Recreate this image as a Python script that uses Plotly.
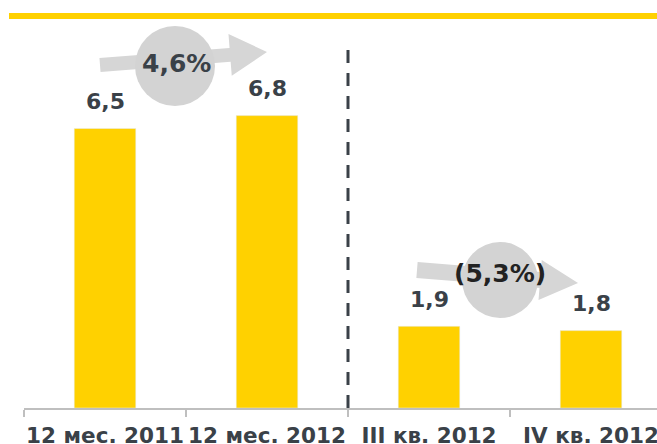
import math
import plotly.graph_objects as go

categories = ["12 мес. 2011", "12 мес. 2012", "III кв. 2012", "IV кв. 2012"]
values = [6.5, 6.8, 1.9, 1.8]
value_labels = ["6,5", "6,8", "1,9", "1,8"]
growth_labels = ["4,6%", "(5,3%)"]

W, H = 657, 444
BASE_PX = 408  # baseline in window pixels
ML, MR, MT = 24, 0, 0
MB = H - BASE_PX
CAT_W = 162.0
PPU = 43.0
plot_w = W - ML - MR
plot_h = H - MT - MB
x_range = [-0.5, -0.5 + plot_w / CAT_W]
y_range = [0, plot_h / PPU]


def px2x(px):
    return (px - ML) / CAT_W - 0.5


def px2y(py):
    return (BASE_PX - py) / PPU


def arrow_path(tail, tip, sw, hw, hl):
    dx, dy = tip[0] - tail[0], tip[1] - tail[1]
    L = math.hypot(dx, dy)
    ux, uy = dx / L, dy / L
    nx, ny = -uy, ux
    bx, by = tip[0] - ux * hl, tip[1] - uy * hl
    pts = [
        (tail[0] + nx * sw, tail[1] + ny * sw),
        (bx + nx * sw, by + ny * sw),
        (bx + nx * hw, by + ny * hw),
        tip,
        (bx - nx * hw, by - ny * hw),
        (bx - nx * sw, by - ny * sw),
        (tail[0] - nx * sw, tail[1] - ny * sw),
    ]
    return "M " + " L ".join(f"{px2x(p[0]):.4f},{px2y(p[1]):.4f}" for p in pts) + " Z"


GREY = "#D6D6D6"
DARK = "#3A4148"
YELLOW = "#FFD100"
FONT = "DejaVu Sans"

fig = go.Figure()
fig.add_trace(go.Bar(
    x=categories, y=values, marker_color=YELLOW, width=0.38,
    hoverinfo="skip",
))

shapes = []
# top yellow rule
shapes.append(dict(type="line", xref="paper", yref="paper",
                   x0=(9 - ML) / plot_w, x1=1.0,
                   y0=px2y(16) / y_range[1], y1=px2y(16) / y_range[1],
                   line=dict(color=YELLOW, width=6)))
# dashed separator
shapes.append(dict(type="line", xref="x", yref="y", x0=1.5, x1=1.5,
                   y0=0, y1=px2y(46),
                   line=dict(color=DARK, width=3, dash="13px,10px")))
# arrows + circles
shapes.append(dict(type="path", xref="x", yref="y",
                   path=arrow_path((100, 65), (267, 52), 7, 21, 37),
                   fillcolor=GREY, line=dict(width=0)))
shapes.append(dict(type="circle", xref="x", yref="y",
                   x0=px2x(175 - 40), x1=px2x(175 + 40),
                   y0=px2y(66 + 40), y1=px2y(66 - 40),
                   fillcolor="#D3D3D3", line=dict(width=0)))
shapes.append(dict(type="path", xref="x", yref="y",
                   path=arrow_path((417, 270), (578, 283), 8, 20, 38),
                   fillcolor=GREY, line=dict(width=0)))
shapes.append(dict(type="circle", xref="x", yref="y",
                   x0=px2x(500 - 38), x1=px2x(500 + 38),
                   y0=px2y(280 + 38), y1=px2y(280 - 38),
                   fillcolor="#D3D3D3", line=dict(width=0)))

annotations = []
for c, v, t in zip(categories, values, value_labels):
    annotations.append(dict(x=c, y=v, text=t, showarrow=False, yshift=27,
                            font=dict(family=FONT, size=22, color=DARK, weight="bold")))
annotations.append(dict(x=px2x(176), y=px2y(63), text=growth_labels[0], showarrow=False,
                        font=dict(family=FONT, size=25, color=DARK, weight="bold")))
annotations.append(dict(x=px2x(500), y=px2y(273), text=growth_labels[1], showarrow=False,
                        font=dict(family=FONT, size=25, color="#222222", weight="bold")))

fig.update_layout(
    width=W, height=H,
    margin=dict(l=ML, r=MR, t=MT, b=MB, pad=0, autoexpand=False),
    plot_bgcolor="white", paper_bgcolor="white",
    showlegend=False,
    shapes=shapes, annotations=annotations,
    xaxis=dict(range=x_range, showline=True, linecolor="#BFBFBF", linewidth=2,
               ticks="outside", tickson="boundaries", ticklen=7, tickwidth=2,
               tickcolor="#BFBFBF", showgrid=False, zeroline=False,
               ticklabelstandoff=7, tickangle=0, automargin=False,
               tickfont=dict(family=FONT, size=21.5, color=DARK, weight="bold")),
    yaxis=dict(range=y_range, visible=False, showgrid=False, zeroline=False,
               automargin=False),
)

fig.write_html(
    "out.html",
    config={"displayModeBar": False},
    post_script="document.body.style.margin='0';document.body.style.overflow='hidden';",
)
